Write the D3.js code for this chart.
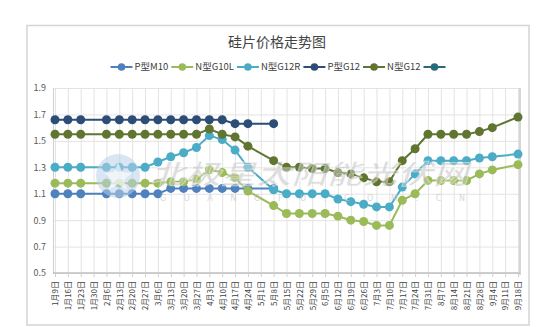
<!DOCTYPE html>
<html><head><meta charset="utf-8">
<script src="https://cdn.jsdelivr.net/npm/d3@7"></script>
<style>
html,body{margin:0;padding:0;background:#fff;}
svg{display:block;font-family:"Noto Sans CJK SC","Noto Sans",sans-serif;}
</style></head>
<body><svg id="c" width="552" height="327"></svg>
<script>
const title = "硅片价格走势图";
const categories = ["1月9日","1月16日","1月23日","1月30日","2月6日","2月13日","2月20日","2月27日","3月6日","3月13日","3月20日","3月27日","4月3日","4月10日","4月17日","4月24日","5月1日","5月8日","5月15日","5月22日","5月29日","6月5日","6月12日","6月19日","6月26日","7月3日","7月10日","7月17日","7月24日","7月31日","8月7日","8月14日","8月21日","8月28日","9月4日","9月11日","9月18日"];
const yTicks = [0.5,0.7,0.9,1.1,1.3,1.5,1.7,1.9];
const seriesNames = ["P型M10","N型G10L","N型G12R","P型G12","N型G12",""];
const seriesColors = ["#4f81bd","#9bbb59","#4bacc6","#2c4d75","#5f7530","#276a7c"];
const pM10  = [1.10,1.10,1.10,null,1.10,1.10,1.10,1.10,1.10,1.14,1.14,1.14,1.14,1.14,1.14,1.14,null,1.14,null,null,null,null,null,null,null,null,null,null,null,null,null,null,null,null,null,null,null];
const nG10L = [1.18,1.18,1.18,null,1.18,1.18,1.18,1.18,1.18,1.19,1.19,1.21,1.28,1.26,1.22,1.12,null,1.01,0.95,0.95,0.95,0.95,0.93,0.90,0.89,0.86,0.86,1.05,1.10,1.20,1.20,1.20,1.20,1.25,1.28,null,1.32];
const nG12R = [1.30,1.30,1.30,null,1.30,1.30,1.30,1.30,1.34,1.38,1.41,1.45,1.54,1.51,1.43,1.30,null,1.13,1.10,1.10,1.10,1.10,1.06,1.04,1.02,1.00,1.00,1.15,1.25,1.35,1.35,1.35,1.35,1.37,1.38,null,1.40];
const pG12  = [1.66,1.66,1.66,null,1.66,1.66,1.66,1.66,1.66,1.66,1.66,1.66,1.66,1.66,1.63,1.63,null,1.63,null,null,null,null,null,null,null,null,null,null,null,null,null,null,null,null,null,null,null];
const nG12  = [1.55,1.55,1.55,null,1.55,1.55,1.55,1.55,1.55,1.55,1.55,1.55,1.59,1.55,1.53,1.46,null,1.35,1.30,1.30,1.29,1.29,1.26,1.25,1.22,1.19,1.19,1.35,1.44,1.55,1.55,1.55,1.55,1.57,1.60,null,1.68];
const extra = categories.map(() => null);
const seriesValues = [pM10, nG10L, nG12R, pG12, nG12, extra];

const svg = d3.select("#c");
const L = 53, R = 520, T = 88, B = 273;
const x = d3.scalePoint().domain(categories).range([55, 518]);
const y = d3.scaleLinear().domain([0.5, 1.9]).range([B, T]);

// outer frame
svg.append("rect").attr("x",27).attr("y",25.5).attr("width",502).attr("height",299.5)
  .attr("fill","none").attr("stroke","#d4d4d4").attr("stroke-width",1.5);

// title
svg.append("text").attr("x",277).attr("y",47).attr("text-anchor","middle")
  .attr("font-size",14).attr("fill","#444").text(title);

// grid
svg.append("g").attr("transform",`translate(${L},0)`)
  .call(d3.axisLeft(y).tickValues(yTicks).tickSize(-(R-L)).tickFormat(""))
  .call(g=>{g.select(".domain").remove(); g.selectAll("line").attr("stroke","#e3e3e3");});
svg.append("g").attr("transform",`translate(0,${B})`)
  .call(d3.axisBottom(x).tickSize(-(B-T)).tickFormat(""))
  .call(g=>{g.select(".domain").remove(); g.selectAll("line").attr("stroke","#e3e3e3");});

// axes
const ya = svg.append("g").attr("transform",`translate(${L},0)`)
  .call(d3.axisLeft(y).tickValues(yTicks).tickSize(0).tickPadding(7).tickFormat(d3.format(".1f")));
ya.select(".domain").attr("stroke","#d0d0d0");
ya.selectAll("text").attr("font-size",9).attr("fill","#595959").attr("font-family","'Noto Sans CJK SC',sans-serif");

const xa = svg.append("g").attr("transform",`translate(0,${B})`)
  .call(d3.axisBottom(x).tickSize(4).tickSizeOuter(0));
xa.select(".domain").attr("stroke","#bfbfbf").attr("stroke-width",1.5).attr("d",`M${L},0H${R}`);
xa.selectAll("line").attr("stroke","#d0d0d0");
xa.selectAll("text").attr("font-size",8).attr("fill","#404040")
  .attr("font-family","'Noto Sans CJK SC',sans-serif")
  .attr("text-anchor","end").attr("transform","translate(0,8) rotate(-90)")
  .attr("x",0).attr("y",0).attr("dy","0.35em");

// right plot border
svg.append("line").attr("x1",R).attr("x2",R).attr("y1",T).attr("y2",B+2)
  .attr("stroke","#c8c8c8").attr("stroke-width",1.5);

// series
const line = d3.line().x(d=>x(d.c)).y(d=>y(d.v));
seriesValues.forEach((vals,si)=>{
  const pts = vals.map((v,i)=>({c:categories[i], v})).filter(d=>d.v!=null);
  if(!pts.length) return;
  const g = svg.append("g");
  g.append("path").datum(pts).attr("d",line).attr("fill","none")
    .attr("stroke",seriesColors[si]).attr("stroke-width",2);
  g.selectAll("circle").data(pts).join("circle")
    .attr("cx",d=>x(d.c)).attr("cy",d=>y(d.v)).attr("r",4.5)
    .attr("fill",seriesColors[si]);
});

// watermark
const wm = svg.append("g").attr("pointer-events","none");
wm.append("circle").attr("cx",118).attr("cy",176).attr("r",22).attr("fill","#b9d0ea").attr("opacity",0.55);
wm.append("path").attr("d","M118,162 L122,172 L132,173 L124,180 L127,190 L118,184 L109,190 L112,180 L104,173 L114,172 Z")
  .attr("fill","#fff").attr("opacity",0.6);
wm.append("text").attr("x",150).attr("y",184).attr("font-size",27).attr("font-weight","bold")
  .attr("font-style","italic").attr("textLength",318).attr("lengthAdjust","spacingAndGlyphs")
  .attr("fill","#c4c4c4").attr("opacity",0.55).attr("stroke","#fff").attr("stroke-width",0.8)
  .text("北极星太阳能光伏网");
wm.append("text").attr("x",160).attr("y",201).attr("font-size",8)
  .attr("textLength",305).attr("lengthAdjust","spacing")
  .attr("fill","#c8c8c8").attr("opacity",0.7).attr("font-family","'DejaVu Sans',sans-serif")
  .text("GUANGFU.COM.CN");

// legend
const leg = svg.append("g").attr("font-size",9.5);
let items = [];
seriesNames.forEach((n,i)=>{
  const gi = leg.append("g");
  gi.append("line").attr("x1",0).attr("x2",22).attr("y1",0).attr("y2",0)
    .attr("stroke",seriesColors[i]).attr("stroke-width",2);
  gi.append("circle").attr("cx",11).attr("cy",0).attr("r",3.8).attr("fill",seriesColors[i]);
  const t = gi.append("text").attr("x",24).attr("y",0).attr("dy","0.35em").attr("fill","#404040").text(n);
  const w = n ? 24 + t.node().getComputedTextLength() + 3 : 22;
  items.push({gi, w});
});
const total = items.reduce((s,d)=>s+d.w,0);
let sx = 278 - total/2;
items.forEach(d=>{ d.gi.attr("transform",`translate(${sx},67)`); sx += d.w; });
</script></body></html>
